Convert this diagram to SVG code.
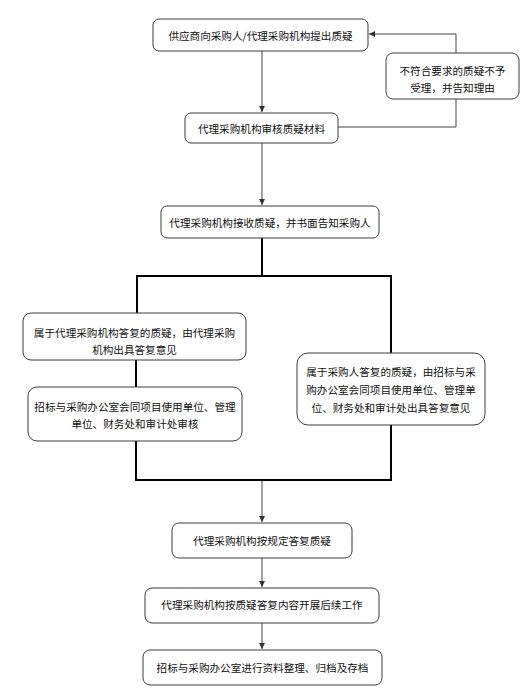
<svg xmlns="http://www.w3.org/2000/svg" width="527" height="696" viewBox="0 0 527 696">
<style>
.box{fill:#fff;stroke:#3c3c3c;stroke-width:1}
.t{font-family:"Noto Sans CJK SC","Noto Sans",sans-serif;font-size:10.6px;fill:#111;text-anchor:middle;dominant-baseline:central}
.thin{fill:none;stroke:#444;stroke-width:1}
.thick{fill:none;stroke:#000;stroke-width:2}
</style>
<defs>
<marker id="arr" viewBox="0 0 8 8" refX="8" refY="4" markerWidth="6" markerHeight="6" markerUnits="userSpaceOnUse" orient="auto">
<path d="M0,0 L8,4 L0,8 Z" fill="#333"/>
</marker>
</defs>
<rect width="527" height="696" fill="#fff"/>
<g id="connectors">
<line class="thin" x1="262" y1="51" x2="262" y2="112" marker-end="url(#arr)"/>
<polyline class="thin" points="338,127 456,127 456,99"/>
<polyline class="thin" points="456,53 456,34 369,34" marker-end="url(#arr)"/>
<line class="thin" x1="262" y1="143" x2="262" y2="205" marker-end="url(#arr)"/>
<line class="thick" x1="262" y1="238" x2="262" y2="276"/>
<line class="thick" x1="136" y1="276" x2="392" y2="276"/>
<line class="thick" x1="137" y1="276" x2="137" y2="313"/>
<line class="thick" x1="136" y1="360" x2="136" y2="387"/>
<polyline class="thick" points="136,441 136,480 391,480 391,425"/>
<line class="thick" x1="391" y1="276" x2="391" y2="353"/>
<line class="thin" x1="262" y1="481" x2="262" y2="522" marker-end="url(#arr)"/>
<line class="thin" x1="262" y1="558" x2="262" y2="587" marker-end="url(#arr)"/>
<line class="thin" x1="262" y1="623" x2="262" y2="649" marker-end="url(#arr)"/>
</g>
<g id="n1"><rect class="box" x="153" y="19" width="215" height="32" rx="6"/><text class="t" x="260.5" y="35">供应商向采购人/代理采购机构提出质疑</text></g>
<g id="n2"><rect class="box" x="185" y="113" width="153" height="30" rx="6"/><text class="t" x="261.5" y="128">代理采购机构审核质疑材料</text></g>
<g id="n_reject"><rect class="box" x="386" y="53" width="133" height="46" rx="7"/><text class="t" x="452.5" y="70">不符合要求的质疑不予</text><text class="t" x="452.5" y="87">受理，并告知理由</text></g>
<g id="n3"><rect class="box" x="161" y="206" width="218" height="32" rx="6"/><text class="t" x="270" y="222">代理采购机构接收质疑，并书面告知采购人</text></g>
<g id="n_l1"><rect class="box" x="23" y="313" width="223" height="47" rx="8"/><text class="t" x="134.5" y="332">属于代理采购机构答复的质疑，由代理采购</text><text class="t" x="134.5" y="349">机构出具答复意见</text></g>
<g id="n_l2"><rect class="box" x="28" y="387" width="214" height="54" rx="9"/><text class="t" x="135" y="406">招标与采购办公室会同项目使用单位、管理</text><text class="t" x="135" y="423">单位、财务处和审计处审核</text></g>
<g id="n_r"><rect class="box" x="297" y="353" width="188" height="72" rx="11"/><text class="t" x="391" y="371">属于采购人答复的质疑，由招标与采</text><text class="t" x="391" y="389">购办公室会同项目使用单位、管理单</text><text class="t" x="391" y="407">位、财务处和审计处出具答复意见</text></g>
<g id="n4"><rect class="box" x="172" y="523" width="180" height="35" rx="7"/><text class="t" x="262" y="540">代理采购机构按规定答复质疑</text></g>
<g id="n5"><rect class="box" x="145" y="588" width="234" height="35" rx="7"/><text class="t" x="262" y="604">代理采购机构按质疑答复内容开展后续工作</text></g>
<g id="n6"><rect class="box" x="143" y="650" width="239" height="35" rx="7"/><text class="t" x="262.5" y="667">招标与采购办公室进行资料整理、归档及存档</text></g>
</svg>
